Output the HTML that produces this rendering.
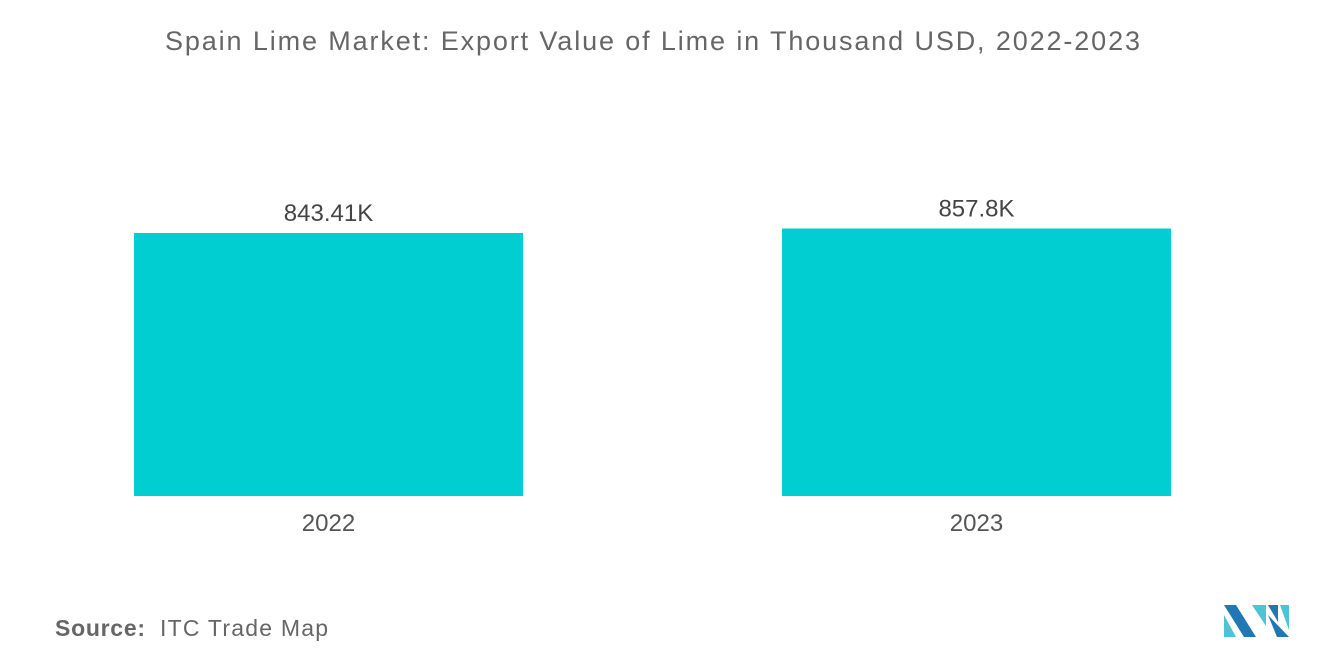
<!DOCTYPE html>
<html><head><meta charset="utf-8"><style>
body{margin:0;background:#fff;font-family:"Liberation Sans",sans-serif;}
svg{display:block}
</style></head><body>
<svg width="1320" height="665" viewBox="0 0 1320 665">
<text x="165" y="50" font-size="27" textLength="975" lengthAdjust="spacing" fill="#666">Spain Lime Market: Export Value of Lime in Thousand USD, 2022-2023</text>
<g id="bars"></g>
<text x="55" y="636" font-size="23" font-weight="bold" textLength="90" fill="#666">Source:</text>
<text x="160" y="636" font-size="23" textLength="168" lengthAdjust="spacing" fill="#666">ITC Trade Map</text>
<g>
<polygon points="1224,605 1236,605 1256,637 1244,637" fill="#1f78b4"/>
<polygon points="1224,615 1236,637 1224,637" fill="#4fc3d6"/>
<polygon points="1252,605 1266,605 1266,626" fill="#4fc3d6"/>
<polygon points="1268,605 1278,605 1278,622" fill="#1f78b4"/>
<polygon points="1268,615 1289,637 1277,637" fill="#1f78b4"/>
<polygon points="1280,605 1289,605 1289,630" fill="#4fc3d6"/>
</g>
</svg>
<script>
const categories=["2022","2023"];
const values=[843.41,857.8];
const labels=["843.41K","857.8K"];
const ns="http://www.w3.org/2000/svg";
const g=document.getElementById("bars");
const base=496, scale=263/843.41;
const y=v=>base-v*scale;
const xs=[134,782], w=389;
categories.forEach((c,i)=>{
 const r=document.createElementNS(ns,"rect");
 r.setAttribute("x",xs[i]);r.setAttribute("y",y(values[i]));
 r.setAttribute("width",w);r.setAttribute("height",base-y(values[i]));
 r.setAttribute("fill","#00ced1");
 
 
 g.appendChild(r);
 const t=document.createElementNS(ns,"text");
 t.setAttribute("x",xs[i]+w/2);t.setAttribute("y",y(values[i])-12);
 t.setAttribute("text-anchor","middle");t.setAttribute("font-size","24");t.setAttribute("fill","#444");
 t.textContent=labels[i];
 
 
 g.appendChild(t);
 const l=document.createElementNS(ns,"text");
 l.setAttribute("x",xs[i]+w/2);l.setAttribute("y",531);
 l.setAttribute("text-anchor","middle");l.setAttribute("font-size","24");l.setAttribute("fill","#555");
 l.textContent=c;
 
 
 g.appendChild(l);
});
</script>
</body></html>
